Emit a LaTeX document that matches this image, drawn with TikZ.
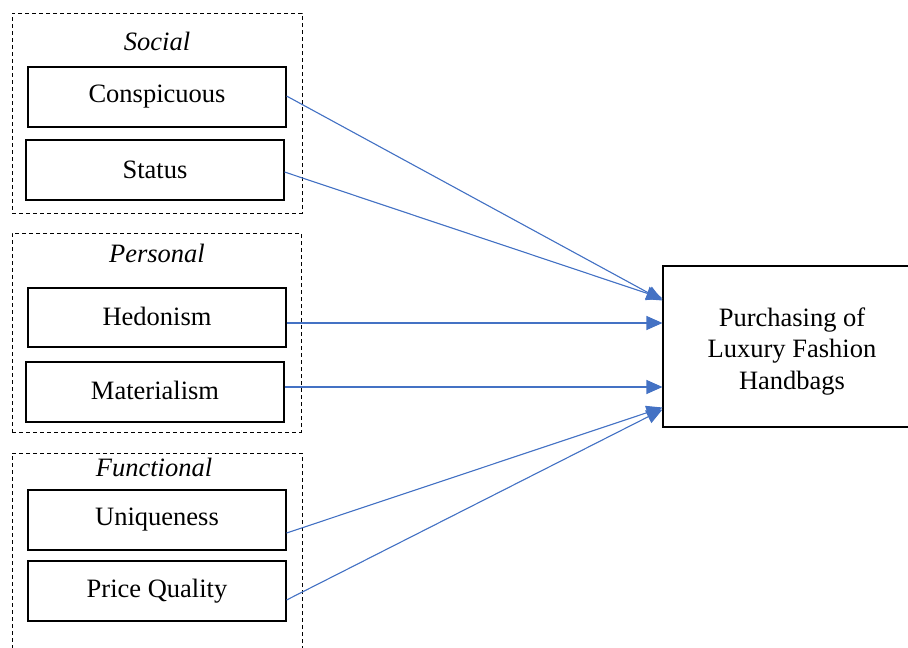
\documentclass[tikz,border=0pt]{standalone}
\usepackage{fontspec}
\setmainfont{Liberation Serif}
\usepackage{tikz}
\usetikzlibrary{arrows.meta,positioning,calc}
\definecolor{arrowblue}{HTML}{4472C4}

\begin{document}
\begin{tikzpicture}[
  x=1pt,y=-1pt,
  factor/.style={draw,line width=1.1pt,minimum width=258pt,minimum height=60pt,
                 inner sep=0pt,font=\fontsize{26.5}{31}\selectfont},
  group/.style={draw,line width=0.9pt,dash pattern=on 4pt off 3pt,
                minimum width=290pt,inner sep=0pt},
  title/.style={font=\fontsize{26.5}{31}\selectfont\itshape},
  outcome/.style={draw,line width=1.1pt,minimum width=258pt,minimum height=161pt,
                  inner sep=0pt,align=center,font=\fontsize{26.5}{31.5}\selectfont},
  ar/.style={-{Triangle[length=16pt,width=14pt]},line width=1.1pt,draw=arrowblue,fill=arrowblue}
]
\useasboundingbox (0,0) rectangle (908,648);

% value groups
\node[group,minimum height=200pt] (social) at (157,113) {};
\node[group,minimum height=199pt,minimum width=289pt] (personal) at (156.5,332.5) {};
\node[group,minimum height=222pt] (functional) at (157,564) {};

\node[title] (socialtitle) at (157,41) {Social};
\node[title] (personaltitle) at (157,253) {Personal};
\node[title] (functionaltitle) at (154,467) {Functional};

% factors
\node[factor] (conspicuous) at (157,97) {Conspicuous};
\node[factor] (status) at (155,170) {Status};
\node[factor,minimum height=59pt] (hedonism) at (157,317.5) {\raisebox{3pt}{Hedonism}};
\node[factor] (materialism) at (155,392) {\raisebox{3pt}{Materialism}};
\node[factor] (uniqueness) at (157,520) {Uniqueness};
\node[factor] (pricequality) at (157,591) {Price Quality};

\node[outcome] (purchase) at (792,346.5) {\rule{0pt}{28.5pt}Purchasing of\\Luxury Fashion\\Handbags};

\draw[ar] ($(conspicuous.east)+(0,-1)$) -- ($(purchase.west)+(0,-46)$);
\draw[ar] ($(status.east)+(0,2)$) -- ($(purchase.west)+(0,-48)$);
\draw[ar] ($(hedonism.east)+(0,5.5)$) -- ($(purchase.west)+(0,-23.5)$);
\draw[ar] ($(materialism.east)+(0,-5)$) -- ($(purchase.west)+(0,40.5)$);
\draw[ar] ($(uniqueness.east)+(0,13)$) -- ($(purchase.west)+(0,61)$);
\draw[ar] ($(pricequality.east)+(0,9)$) -- ($(purchase.west)+(0,63)$);
\end{tikzpicture}
\end{document}
